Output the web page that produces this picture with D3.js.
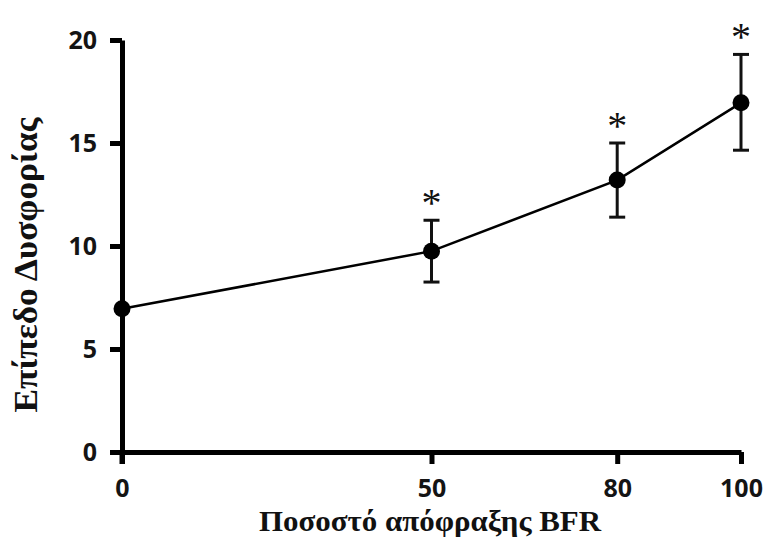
<!DOCTYPE html>
<html>
<head>
<meta charset="utf-8">
<script src="https://cdn.jsdelivr.net/npm/d3@7"></script>
<style>
  body { margin: 0; background: #fff; }
  svg { display: block; }
</style>
</head>
<body>
<svg width="768" height="544"></svg>
<script>
// occlusion percentage (x), discomfort mean (y), error (±)
var occlusion = [0, 50, 80, 100];
var discomfort = [6.95, 9.75, 13.2, 16.95];
var errLow = [6.95, 8.25, 11.4, 14.65];
var errHigh = [6.95, 11.25, 15.0, 19.3];
var significant = [false, true, true, true];
var xTicks = [0, 50, 80, 100];
var yTicks = [0, 5, 10, 15, 20];

var svg = d3.select("svg"),
    margin = {left: 122, right: 27, top: 40, bottom: 92},
    width = +svg.attr("width") - margin.left - margin.right,
    height = +svg.attr("height") - margin.top - margin.bottom,
    g = svg.append("g").attr("transform", "translate(" + margin.left + "," + margin.top + ")");

var x = d3.scaleLinear().domain([0, 100]).range([0, width]);
var y = d3.scaleLinear().domain([0, 20]).range([height, 0]);

var tickFont = "'Open Sans', sans-serif";
var titleFont = "'Liberation Serif', 'Times New Roman', serif";

// x axis
var xAxis = g.append("g")
    .attr("transform", "translate(0," + height + ")")
    .call(d3.axisBottom(x).tickValues(xTicks).tickSize(12).tickPadding(15).tickSizeOuter(0));
// y axis
var yAxis = g.append("g")
    .call(d3.axisLeft(y).tickValues(yTicks).tickSize(12).tickPadding(13).tickSizeOuter(0));

[xAxis, yAxis].forEach(function(a) {
  a.select(".domain").attr("stroke", "#000").attr("stroke-width", 5);
  a.selectAll(".tick line").attr("stroke", "#000").attr("stroke-width", 5);
  a.selectAll(".tick text")
    .attr("fill", "#141414")
    .style("font-family", tickFont)
    .style("font-weight", 700)
    .style("font-size", "25px");
});
// y axis runs slightly below zero like the original
g.append("line")
  .attr("x1", 0).attr("x2", 0)
  .attr("y1", y(0)).attr("y2", y(0) + 12)
  .attr("stroke", "#000").attr("stroke-width", 5);

var data = occlusion.map(function(d, i) {
  return {x: d, y: discomfort[i], lo: errLow[i], hi: errHigh[i], sig: significant[i]};
});

// line
g.append("path")
  .datum(data)
  .attr("fill", "none")
  .attr("stroke", "#000")
  .attr("stroke-width", 2.5)
  .attr("d", d3.line().x(function(d) { return x(d.x); }).y(function(d) { return y(d.y); }));

// error bars
var eb = g.append("g").selectAll("g")
  .data(data.filter(function(d) { return d.hi > d.lo; }))
  .enter().append("g")
  .attr("stroke", "#111")
  .attr("stroke-width", 3);
eb.append("line")
  .attr("x1", function(d) { return x(d.x); }).attr("x2", function(d) { return x(d.x); })
  .attr("y1", function(d) { return y(d.lo); }).attr("y2", function(d) { return y(d.hi); });
eb.append("line")
  .attr("x1", function(d) { return x(d.x) - 8; }).attr("x2", function(d) { return x(d.x) + 8; })
  .attr("y1", function(d) { return y(d.lo); }).attr("y2", function(d) { return y(d.lo); });
eb.append("line")
  .attr("x1", function(d) { return x(d.x) - 8; }).attr("x2", function(d) { return x(d.x) + 8; })
  .attr("y1", function(d) { return y(d.hi); }).attr("y2", function(d) { return y(d.hi); });

// markers
g.append("g").selectAll("circle")
  .data(data)
  .enter().append("circle")
  .attr("cx", function(d) { return x(d.x); })
  .attr("cy", function(d) { return y(d.y); })
  .attr("r", 8.5)
  .attr("fill", "#000");

// significance asterisks
g.append("g").selectAll("text")
  .data(data.filter(function(d) { return d.sig; }))
  .enter().append("text")
  .attr("x", function(d) { return x(d.x); })
  .attr("y", function(d) { return y(d.hi) - 4; })
  .attr("text-anchor", "middle")
  .style("font-family", titleFont)
  .style("font-size", "40px")
  .attr("fill", "#111")
  .text("*");

// axis titles
svg.append("text")
  .attr("x", 430)
  .attr("y", 531)
  .attr("text-anchor", "middle")
  .attr("textLength", 342)
  .attr("lengthAdjust", "spacingAndGlyphs")
  .style("font-family", titleFont)
  .style("font-weight", "bold")
  .style("font-size", "30px")
  .attr("fill", "#111")
  .text("Ποσοστό απόφραξης BFR");

svg.append("text")
  .attr("transform", "translate(37,265)rotate(-90)")
  .attr("text-anchor", "middle")
  .attr("textLength", 295)
  .attr("lengthAdjust", "spacingAndGlyphs")
  .style("font-family", titleFont)
  .style("font-weight", "bold")
  .style("font-size", "33px")
  .attr("fill", "#111")
  .text("Επίπεδο Δυσφορίας");
</script>
</body>
</html>
